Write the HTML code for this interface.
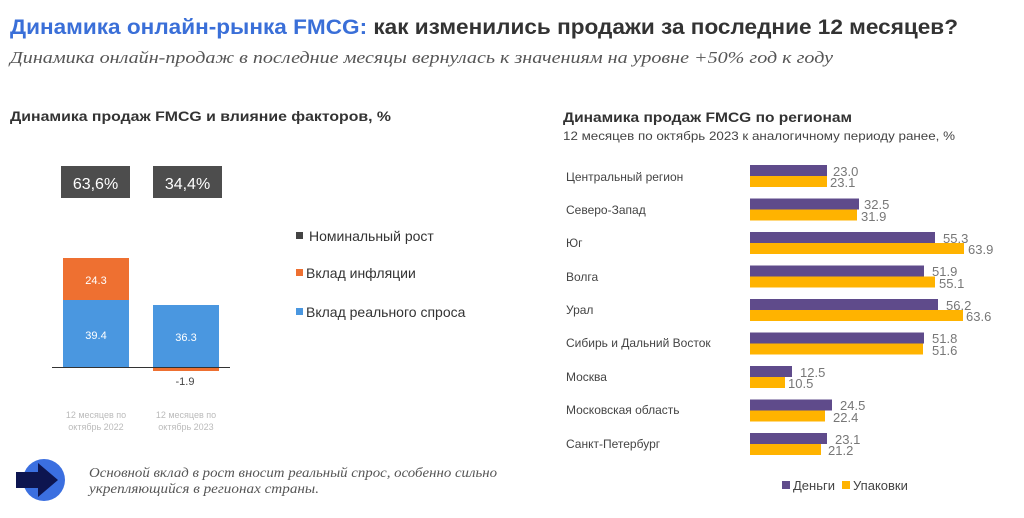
<!DOCTYPE html>
<html><head><meta charset="utf-8"><style>body{margin:0;background:#fff}svg{display:block}</style></head>
<body>
<svg width="1024" height="518" viewBox="0 0 1024 518" xmlns="http://www.w3.org/2000/svg" font-family="Liberation Sans, sans-serif">
<text x="10" y="34" font-size="21" font-weight="bold" textLength="948" lengthAdjust="spacingAndGlyphs"><tspan fill="#3a6fd8">Динамика онлайн-рынка FMCG:</tspan><tspan fill="#333"> как изменились продажи за последние 12 месяцев?</tspan></text>
<text x="10" y="63" font-size="17" font-style="italic" font-family="Liberation Serif, serif" fill="#555" textLength="823" lengthAdjust="spacingAndGlyphs">Динамика онлайн-продаж в последние месяцы вернулась к значениям на уровне +50% год к году</text>
<text x="10" y="121" font-size="14" font-weight="bold" fill="#333" textLength="381" lengthAdjust="spacingAndGlyphs">Динамика продаж FMCG и влияние факторов, %</text>
<text x="563" y="122" font-size="14" font-weight="bold" fill="#333" textLength="289" lengthAdjust="spacingAndGlyphs">Динамика продаж FMCG по регионам</text>
<text x="563" y="140" font-size="12" fill="#444" textLength="392" lengthAdjust="spacingAndGlyphs">12 месяцев по октябрь 2023 к аналогичному периоду ранее, %</text>

<!-- left chart -->
<rect x="61" y="166" width="69" height="32" fill="#4d4d4d"/>
<text x="95.5" y="189" font-size="16" fill="#fff" text-anchor="middle">63,6%</text>
<rect x="153" y="166" width="69" height="32" fill="#4d4d4d"/>
<text x="187.5" y="189" font-size="16" fill="#fff" text-anchor="middle">34,4%</text>
<rect x="63" y="258" width="66" height="42" fill="#ee7031"/>
<rect x="63" y="300" width="66" height="67" fill="#4a97e0"/>
<text x="96" y="284" font-size="11" fill="#fff" text-anchor="middle">24.3</text>
<text x="96" y="339" font-size="11" fill="#fff" text-anchor="middle">39.4</text>
<rect x="153" y="305" width="66" height="62" fill="#4a97e0"/>
<rect x="153" y="367" width="66" height="4" fill="#ee7031"/>
<text x="186" y="341" font-size="11" fill="#fff" text-anchor="middle">36.3</text>
<line x1="52" y1="367.5" x2="230" y2="367.5" stroke="#333" stroke-width="1"/>
<text x="185" y="385" font-size="11" fill="#444" text-anchor="middle">-1.9</text>
<text x="96" y="418" font-size="9" fill="#bbb" text-anchor="middle">12 месяцев по</text>
<text x="96" y="430" font-size="9" fill="#bbb" text-anchor="middle">октябрь 2022</text>
<text x="186" y="418" font-size="9" fill="#bbb" text-anchor="middle">12 месяцев по</text>
<text x="186" y="430" font-size="9" fill="#bbb" text-anchor="middle">октябрь 2023</text>
<rect x="296" y="232" width="7" height="7" fill="#444"/>
<text x="309" y="241" font-size="14" fill="#333">Номинальный рост</text>
<rect x="296" y="269" width="7" height="7" fill="#ee7031"/>
<text x="306" y="278" font-size="14" fill="#333">Вклад инфляции</text>
<rect x="296" y="308" width="7" height="7" fill="#4a97e0"/>
<text x="306" y="317" font-size="14" fill="#333">Вклад реального спроса</text>

<!-- bottom note -->
<circle cx="44" cy="480" r="21" fill="#3b6fe0"/>
<polygon points="16,472 38,472 38,463 58,480 38,497 38,488 16,488" fill="#0d1550"/>
<text x="89" y="477" font-size="14" font-style="italic" font-family="Liberation Serif, serif" fill="#555" textLength="408" lengthAdjust="spacingAndGlyphs">Основной вклад в рост вносит реальный спрос, особенно сильно</text>
<text x="89" y="493" font-size="14" font-style="italic" font-family="Liberation Serif, serif" fill="#555" textLength="230" lengthAdjust="spacingAndGlyphs">укрепляющийся в регионах страны.</text>

<!-- right chart -->
<g font-size="12" fill="#444">
<text x="566" y="181">Центральный регион</text>
<text x="566" y="214">Северо-Запад</text>
<text x="566" y="247">Юг</text>
<text x="566" y="281">Волга</text>
<text x="566" y="314">Урал</text>
<text x="566" y="347">Сибирь и Дальний Восток</text>
<text x="566" y="381">Москва</text>
<text x="566" y="414">Московская область</text>
<text x="566" y="448">Санкт-Петербург</text>
</g>
<g fill="#5f4b8b">
<rect x="750" y="165" width="77" height="11"/>
<rect x="750" y="198.5" width="109" height="11"/>
<rect x="750" y="232" width="185" height="11"/>
<rect x="750" y="265.5" width="174" height="11"/>
<rect x="750" y="299" width="188" height="11"/>
<rect x="750" y="332.5" width="174" height="11"/>
<rect x="750" y="366" width="42" height="11"/>
<rect x="750" y="399.5" width="82" height="11"/>
<rect x="750" y="433" width="77" height="11"/>
</g>
<g fill="#ffb300">
<rect x="750" y="176" width="77" height="11"/>
<rect x="750" y="209.5" width="107" height="11"/>
<rect x="750" y="243" width="214" height="11"/>
<rect x="750" y="276.5" width="185" height="11"/>
<rect x="750" y="310" width="213" height="11"/>
<rect x="750" y="343.5" width="173" height="11"/>
<rect x="750" y="377" width="35" height="11"/>
<rect x="750" y="410.5" width="75" height="11"/>
<rect x="750" y="444" width="71" height="11"/>
</g>
<g font-size="13" fill="#777">
<text x="833" y="176">23.0</text><text x="830" y="187">23.1</text>
<text x="864" y="209">32.5</text><text x="861" y="221">31.9</text>
<text x="943" y="243">55.3</text><text x="968" y="254">63.9</text>
<text x="932" y="276">51.9</text><text x="939" y="288">55.1</text>
<text x="946" y="310">56.2</text><text x="966" y="321">63.6</text>
<text x="932" y="343">51.8</text><text x="932" y="355">51.6</text>
<text x="800" y="377">12.5</text><text x="788" y="388">10.5</text>
<text x="840" y="410">24.5</text><text x="833" y="422">22.4</text>
<text x="835" y="444">23.1</text><text x="828" y="455">21.2</text>
</g>
<rect x="782" y="481" width="8" height="8" fill="#5f4b8b"/>
<text x="793" y="490" font-size="13" fill="#444">Деньги</text>
<rect x="842" y="481" width="8" height="8" fill="#ffb300"/>
<text x="853" y="490" font-size="13" fill="#444">Упаковки</text>
</svg>
</body></html>
